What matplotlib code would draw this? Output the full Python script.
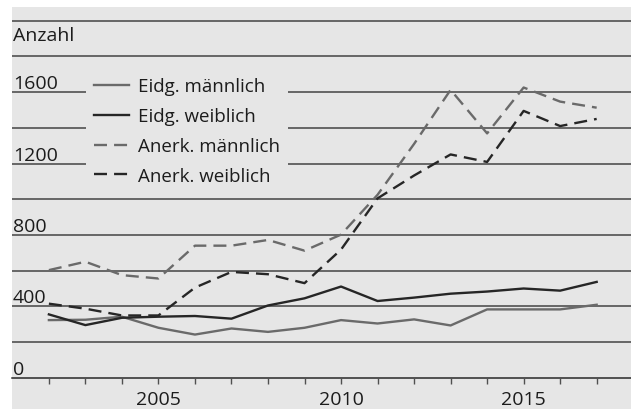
import matplotlib
matplotlib.use("Agg")
import matplotlib.pyplot as plt
from matplotlib.ticker import FixedLocator

plt.rcParams['font.family'] = ['Open Sans', 'DejaVu Sans']

years = list(range(2002, 2018))
eidg_m = [323, 325, 342, 280, 242, 276, 257, 280, 323, 304, 327, 293, 383, 383, 383, 409]
eidg_w = [355, 295, 336, 342, 346, 331, 405, 445, 511, 430, 449, 471, 483, 500, 488, 537]
anerk_m = [603, 650, 575, 556, 740, 740, 772, 712, 802, 1025, 1310, 1613, 1369, 1626, 1547, 1513]
anerk_w = [415, 387, 349, 349, 505, 593, 580, 530, 718, 1005, 1133, 1251, 1209, 1495, 1410, 1450]
labels = ['Eidg. männlich', 'Eidg. weiblich', 'Anerk. männlich', 'Anerk. weiblich']
ytick_labels = [0, 400, 800, 1200, 1600]
xtick_labels = [2005, 2010, 2015]
ylabel = 'Anzahl'

bg = '#e6e6e6'
grid_c = '#505050'
grey_c = '#6a6a6a'
dark_c = '#262626'
text_c = '#1c1c1c'

fig = plt.figure(figsize=(6.31, 4.10), dpi=100)
ax = fig.add_axes([12/631, 0, 619/631, 402/410])
ax.set_facecolor(bg)
ax.set_xlim(2000.99, 2017.94)
ax.set_ylim(-175, 2077)

lw = 1.7
ax.plot(years, eidg_m, color=grey_c, lw=lw, label=labels[0], zorder=3)
ax.plot(years, eidg_w, color=dark_c, lw=lw, label=labels[1], zorder=3)
ax.plot(years, anerk_m, color=grey_c, lw=lw, dashes=(5.5, 3), label=labels[2], zorder=3)
ax.plot(years, anerk_w, color=dark_c, lw=lw, dashes=(5.5, 3), label=labels[3], zorder=3)

# grid
ax.set_yticks(range(0, 2001, 200))
ax.tick_params(axis='y', length=0, labelleft=False)
ax.yaxis.grid(True, color=grid_c, lw=1.2, zorder=1)
ax.set_axisbelow(True)

for s in ['top', 'right', 'left']:
    ax.spines[s].set_visible(False)
ax.spines['bottom'].set_position(('data', 0))
ax.spines['bottom'].set_color(grid_c)
ax.spines['bottom'].set_linewidth(1.2)

ax.set_xticks(xtick_labels)
ax.set_xticklabels([str(x) for x in xtick_labels], fontsize=14, color=text_c)
ax.xaxis.set_minor_locator(FixedLocator(years))
ax.tick_params(axis='x', which='both', direction='out', length=4, width=1.0,
               color=grid_c, pad=5)

for v in ytick_labels:
    ax.text(2001.02, v + 22, str(v), fontsize=14, color=text_c, va='baseline', ha='left', zorder=4)
ax.text(2001.02, 1893, ylabel, fontsize=14, color=text_c, va='baseline', ha='left', zorder=4)

leg = ax.legend(loc='upper left', bbox_to_anchor=((86 - 12) / 619, 1 - (71 - 8) / 402), frameon=True,
                facecolor=bg, edgecolor='none', framealpha=1, fontsize=13.5,
                handlelength=1.87, handletextpad=0.53, labelspacing=0.63, borderpad=0.4,
                borderaxespad=0, labelcolor=text_c)
leg.set_zorder(5)
leg.get_frame().set_boxstyle('square', pad=0)

fig.savefig('out.png', dpi=100)
